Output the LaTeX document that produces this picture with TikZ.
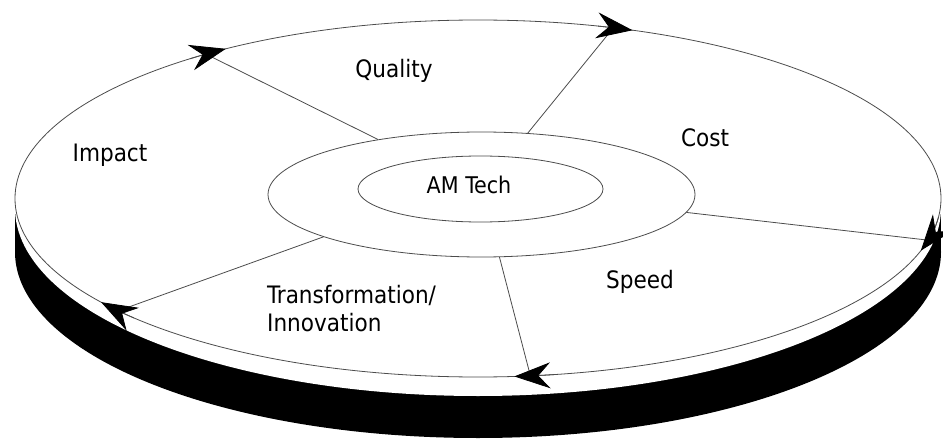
\documentclass[tikz,border=0pt]{standalone}
\usepackage{fontspec}
\setmainfont{DejaVu Sans Condensed}
\usetikzlibrary{arrows.meta,shapes.geometric,calc}
\begin{document}
\begin{tikzpicture}[x=1pt,y=1pt,
  thinline/.style={draw=black!70, line width=0.8pt},
  lbl/.style={font=\fontsize{24}{28}\selectfont, inner sep=0pt, anchor=base, text=black},
  arrowhd/.style={-{Stealth[length=36pt,width=26pt,inset=12pt,fill=black,color=black]}, draw=black!70, line width=0.8pt}
]
\useasboundingbox (0,0) rectangle (943,440);
% disc side
\fill[black] (478,188) ellipse[x radius=463, y radius=186];
\fill[black] (15,188) rectangle (941,232);
% top face
\fill[white] (478,232) ellipse[x radius=463, y radius=188];
% circulation path
\coordinate (pc) at (478,241.5);
\draw[thinline] (pc) ellipse[x radius=463, y radius=178.5];
% rings
\node[ellipse, thinline, minimum width=427pt, minimum height=125pt, inner sep=0pt] (mid) at (481.5,245.5) {};
\node[ellipse, thinline, minimum width=245pt, minimum height=66pt, inner sep=0pt] (core) at (480.5,251) {};
% ends of the radial lines on the path
\coordinate (e1) at ($(pc)+(126:463 and 178.5)$);
\coordinate (e2) at ($(pc)+(73:463 and 178.5)$);
\coordinate (e3) at ($(pc)+(-13.5:463 and 178.5)$);
\coordinate (e4) at ($(pc)+(-83.5:463 and 178.5)$);
\coordinate (e5) at ($(pc)+(219:463 and 178.5)$);
\draw[thinline] (mid.152) -- (e1);
\draw[thinline] (mid.53) -- (e2);
\draw[thinline] (mid.-5) -- (e3);
\draw[thinline] (mid.-74) -- (e4);
\draw[thinline] (mid.195) -- (e5);
% arrowheads along the path
\coordinate (a1) at ($(pc)+(128.5:463 and 178.5)$);
\coordinate (a2) at ($(pc)+(75:463 and 178.5)$);
\coordinate (a3) at ($(pc)+(-6:463 and 178.5)$);
\coordinate (a4) at ($(pc)+(-80.5:463 and 178.5)$);
\coordinate (a5) at ($(pc)+(222:463 and 178.5)$);
\draw[arrowhd] (a1) arc[start angle=128.5, end angle=123, x radius=463, y radius=178.5];
\draw[arrowhd] (a2) arc[start angle=75, end angle=70.5, x radius=463, y radius=178.5];
\draw[arrowhd] (a3) arc[start angle=-6, end angle=-17, x radius=463, y radius=178.5];
\draw[arrowhd] (a4) arc[start angle=-80.5, end angle=-85.5, x radius=463, y radius=178.5];
\draw[arrowhd] (a5) arc[start angle=222, end angle=215.5, x radius=463, y radius=178.5];
% labels
\node[lbl] (quality) at (394,362) {Quality};
\node[lbl] (cost) at (705,293) {Cost};
\node[lbl] (impact) at (110,278) {Impact};
\node[lbl, font=\fontsize{23}{28}\selectfont] (amtech) at (469,247) {AM Tech};
\node[lbl] (speed) at (640,152) {Speed};
\node[lbl, anchor=north west, align=left] (trans) at (267,155) {Transformation/\\Innovation};
\end{tikzpicture}
\end{document}
